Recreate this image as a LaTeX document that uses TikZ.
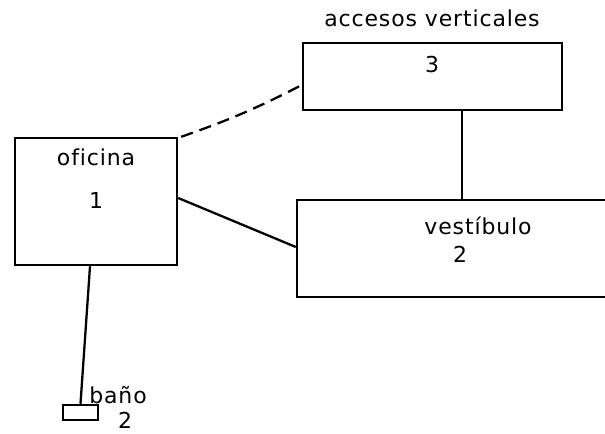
\documentclass[tikz,border=0pt]{standalone}
\usepackage{fontspec}
\setmainfont[Ligatures=NoCommon,LetterSpace=4]{DejaVu Sans}
\usetikzlibrary{calc}

\begin{document}
\begin{tikzpicture}[x=0.02cm,y=-0.02cm,line width=1.3pt,
  room/.style={draw,line width=1.4pt,inner sep=0pt},
  lbl/.style={font=\fontsize{12.5}{14}\selectfont,inner sep=0pt}]
% page in pixel units, y downward
\clip (0,0) rectangle (605,433);
\node[room,minimum width=3.24cm,minimum height=2.54cm] (oficina) at (96,201.5) {};
\node[room,minimum width=5.18cm,minimum height=1.34cm] (accesos) at (432.5,76.5) {};
\node[room,minimum width=6.36cm,minimum height=1.94cm] (vestibulo) at (456,248.5) {};
\node[room,minimum width=0.7cm,minimum height=0.3cm] (bano) at (80.5,412.5) {};
\node[lbl] (oficinaT) at (96,157) {oficina};
\node[lbl] (oficinaN) at (96,200) {1};
\node[lbl] (accesosT) at (432,18) {accesos verticales};
\node[lbl] (accesosN) at (432,65) {3};
\node[lbl] (vestibuloT) at (478,226) {vestíbulo};
\node[lbl] (vestibuloN) at (460,254) {2};
\node[lbl] (banoT) at (118,395) {baño};
\node[lbl] (banoN) at (125,420) {2};
% connectors
\draw[dash pattern=on 7pt off 4pt] ([xshift=0.06cm]oficina.north east) to[bend right=4] ([yshift=-0.17cm]accesos.west);
\draw ([yshift=0.07cm]oficina.east) -- ([yshift=0.03cm]vestibulo.west);
\draw ([xshift=0.59cm]accesos.south) -- ([xshift=0.59cm]accesos.south |- vestibulo.north);
\draw ([xshift=-0.12cm]oficina.south) -- (bano.north);
\end{tikzpicture}
\end{document}
